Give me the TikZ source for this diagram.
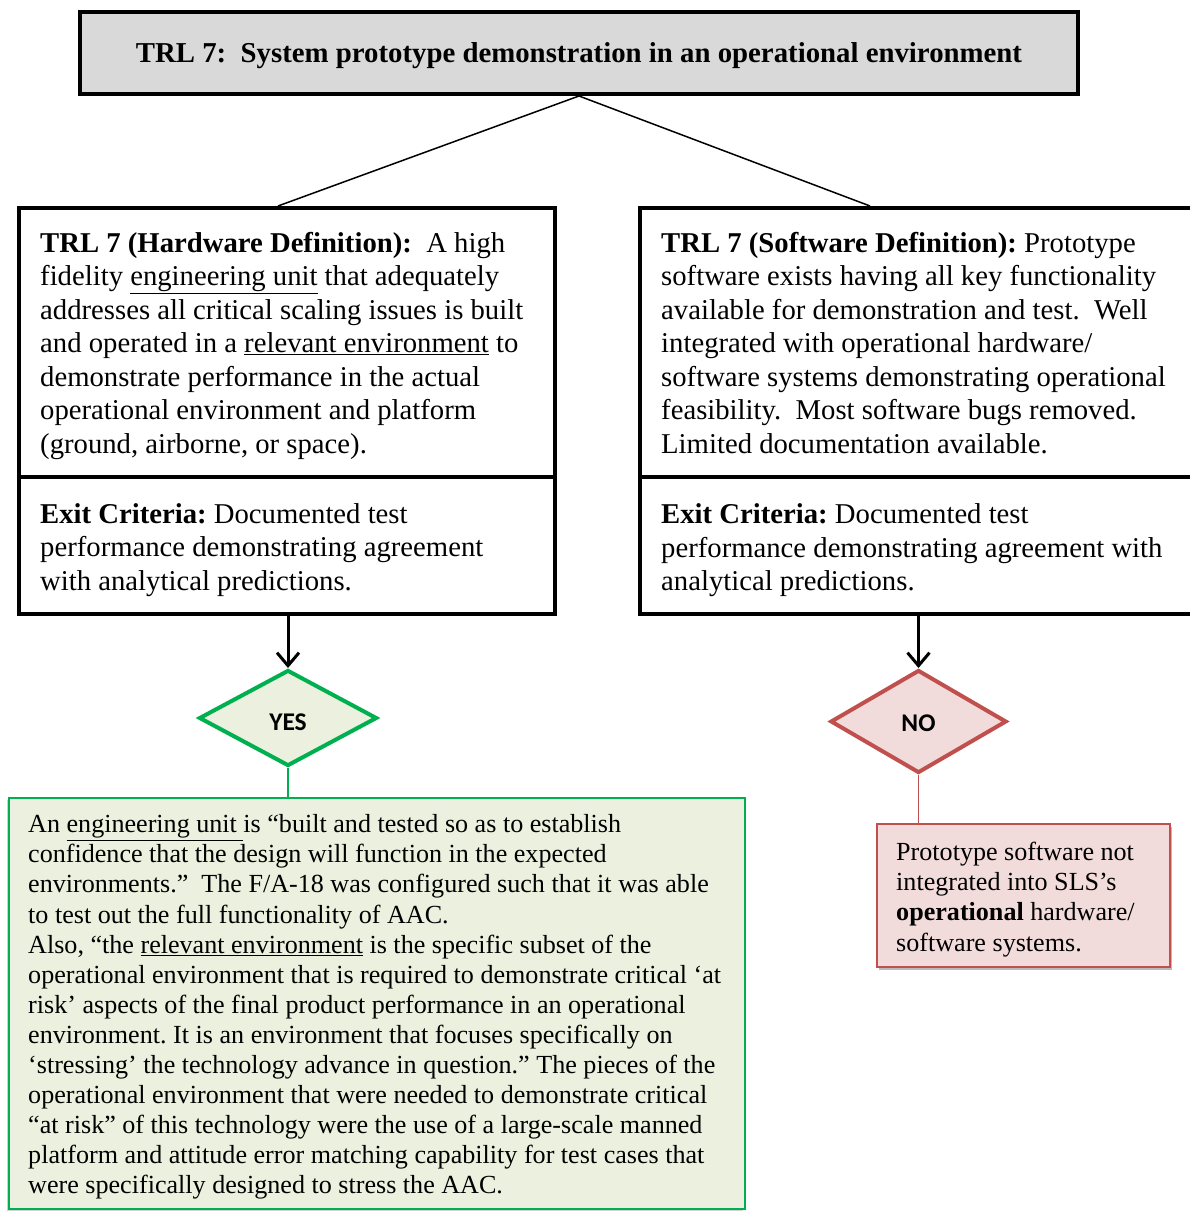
\documentclass[tikz,border=0pt]{standalone}
\usepackage{fontspec}
\setmainfont{Liberation Serif}
\newfontfamily\calib{Carlito}
\usetikzlibrary{arrows.meta,shapes.geometric,shadows}
\definecolor{titlegray}{HTML}{D9D9D9}
\definecolor{yesfill}{HTML}{EBF1DE}
\definecolor{yesline}{HTML}{00B050}
\definecolor{nofill}{HTML}{F2DCDB}
\definecolor{noline}{HTML}{C0504D}
\frenchspacing
\tikzset{
  bigbox/.style={draw=black, line width=4pt, minimum width=#1, inner sep=0pt},
  bodytext/.style={anchor=north west, inner sep=0pt, align=left, font=\fontsize{28.7}{33.5}\selectfont},
  smalltext/.style={anchor=north west, inner sep=0pt, align=left, font=\fontsize{26.1}{30.1}\selectfont},
  decision/.style={diamond, aspect=1.8, inner sep=0pt, line width=4pt},
  decisiontext/.style={anchor=base, inner sep=0pt, font=\calib\bfseries\fontsize{25.5}{28}\selectfont},
  flowarrow/.style={draw=black, line width=3pt, -{Straight Barb[length=13pt,width=22pt,line width=3pt]}},
  thinline/.style={draw=black, line width=1.5pt},
}
\begin{document}
\begin{tikzpicture}[x=1pt,y=-1pt]
\useasboundingbox (0,0) rectangle (1190,1212);
\clip (0,0) rectangle (1190,1212);

% title
\node[bigbox=998pt, fill=titlegray, minimum height=82pt] (title) at (579,53) {};
\node[anchor=base, inner sep=0pt, font=\bfseries\fontsize{28.8}{32}\selectfont] (titletext) at (579,63)
  {TRL 7:\ \ System prototype demonstration in an operational environment};

% left (hardware) box
\node[bigbox=536pt, minimum height=269pt] (hwdef) at (287,342.5) {};
\node[bigbox=536pt, minimum height=137pt] (hwexit) at (287,545.5) {};
% right (software) box
\node[bigbox=556pt, minimum height=269pt] (swdef) at (918,342.5) {};
\node[bigbox=556pt, minimum height=137pt] (swexit) at (918,545.5) {};

\draw[thinline] (title.south) -- ([xshift=-9pt]hwdef.north);
\draw[thinline] (title.south) -- ([xshift=-48pt]swdef.north);

\node[bodytext] (hwtext) at (40,228.5) {\strut\textbf{TRL 7 (Hardware Definition):}\ \ A high\\
fidelity \underline{engineering unit} that adequately\\
addresses all critical scaling issues is built\\
and operated in a \underline{relevant environment} to\\
demonstrate performance in the actual\\
operational environment and platform\\
(ground, airborne, or space).};

\node[bodytext] (hwexittext) at (40,499.5) {\strut\textbf{Exit Criteria:} Documented test\\
performance demonstrating agreement\\
with analytical predictions.};

\node[bodytext] (swtext) at (661,228.5) {\strut\textbf{TRL 7 (Software Definition):} Prototype\\
software exists having all key functionality\\
available for demonstration and test.\ \ Well\\
integrated with operational hardware/\\
software systems demonstrating operational\\
feasibility.\ \ Most software bugs removed.\\
Limited documentation available.};

\node[bodytext] (swexittext) at (661,500) {\strut\textbf{Exit Criteria:} Documented test\\
performance demonstrating agreement with\\
analytical predictions.};

% decisions
\node[decision, draw=yesline, fill=yesfill, minimum width=178pt, minimum height=96pt] (yes) at (288,718) {};
\node[decisiontext] (yestext) at (288,730) {YES};
\node[decision, draw=noline, fill=nofill, minimum width=176pt, minimum height=103pt] (no) at (918.5,721.5) {};
\node[decisiontext] (notext) at (918.5,731) {NO};

\draw[flowarrow] (hwexit.south -| yes.north) -- (yes.north);
\draw[flowarrow] (swexit.south -| no.north) -- (no.north);

% green box
\node[draw=yesline, fill=yesfill, line width=2pt, minimum width=736pt, minimum height=411pt, inner sep=0pt,
      drop shadow={shadow xshift=-2pt, shadow yshift=-2pt, fill=black!35, opacity=0.5}] (greenbox) at (377,1003.5) {};
\draw[draw=yesline, line width=1.5pt] (yes.south) -- (yes.south |- greenbox.north);

\node[smalltext] (greentext) at (28,811.5) {\strut An \underline{engineering unit\ }is “built and tested so as to establish\\
confidence that the design will function in the expected\\
environments.”\ \ The F/A-18 was configured such that it was able\\
to test out the full functionality of AAC.\\
Also, “the \underline{relevant environment} is the specific subset of the\\
operational environment that is required to demonstrate critical ‘at\\
risk’ aspects of the final product performance in an operational\\
environment. It is an environment that focuses specifically on\\
‘stressing’ the technology advance in question.” The pieces of the\\
operational environment that were needed to demonstrate critical\\
“at risk” of this technology were the use of a large-scale manned\\
platform and attitude error matching capability for test cases that\\
were specifically designed to stress the AAC.};

% red box
\node[draw=noline, fill=nofill, line width=2pt, minimum width=293pt, minimum height=143pt, inner sep=0pt,
      drop shadow={shadow xshift=2pt, shadow yshift=-3pt, fill=black!45, opacity=0.6}] (redbox) at (1023.5,895.5) {};
\draw[draw=noline, line width=1.5pt] (no.south) -- (no.south |- redbox.north);

\node[smalltext] (redtext) at (896,839.5) {\strut Prototype software not\\
integrated into SLS’s\\
\textbf{operational} hardware/\\
software systems.};
\end{tikzpicture}
\end{document}
